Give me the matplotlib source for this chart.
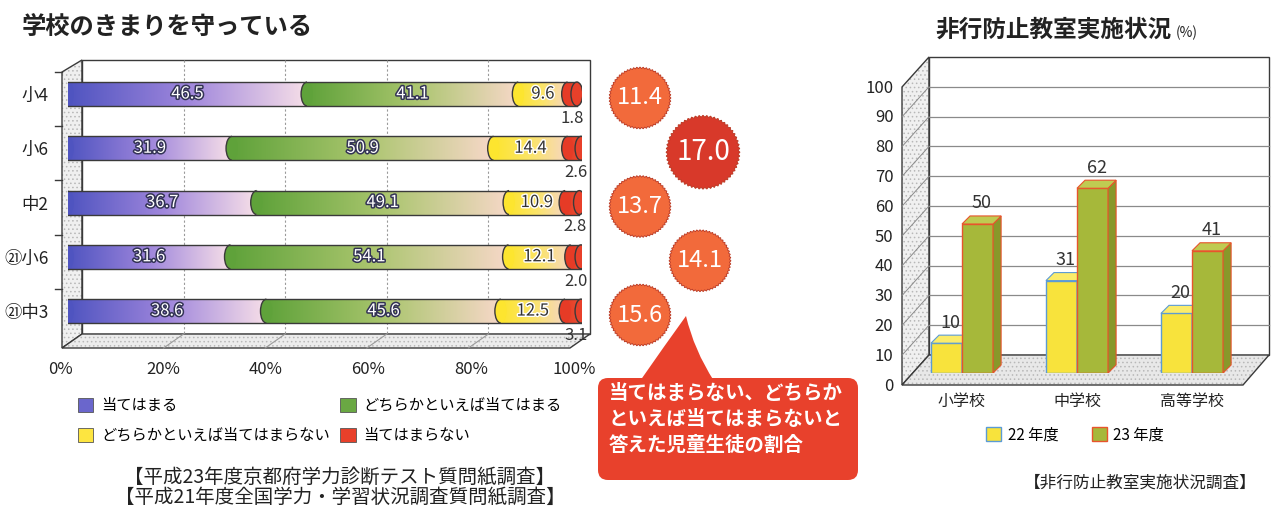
import numpy as np
import matplotlib
matplotlib.use('Agg')
import matplotlib.pyplot as plt
from matplotlib.patches import Ellipse, Arc, Polygon, Rectangle, FancyBboxPatch, PathPatch, Patch
from matplotlib.colors import LinearSegmentedColormap
from matplotlib.path import Path
from matplotlib.transforms import ScaledTranslation
import matplotlib.patheffects as pe

plt.rcParams['font.family'] = ['Noto Sans CJK JP', 'DejaVu Sans']
plt.rcParams['hatch.linewidth'] = 0.6

# ---------------- data ----------------
grades = ['小4', '小6', '中2', '㉑小6', '㉑中3']
atehamaru = [46.5, 31.9, 36.7, 31.6, 38.6]
dochira_atehamaru = [41.1, 50.9, 49.1, 54.1, 45.6]
dochira_atehamaranai = [9.6, 14.4, 10.9, 12.1, 12.5]
atehamaranai = [1.8, 2.6, 2.8, 2.0, 3.1]
answer_labels = ['当てはまる', 'どちらかといえば当てはまる',
                 'どちらかといえば当てはまらない', '当てはまらない']
pct_ticks = [0, 20, 40, 60, 80, 100]
pct_labels = ['0%', '20%', '40%', '60%', '80%', '100%']

schools = ['小学校', '中学校', '高等学校']
fy22 = [10, 31, 20]
fy23 = [50, 62, 41]
year_labels = ['22 年度', '23 年度']
count_ticks = list(range(0, 101, 10))

W, H = 1288, 511
fig = plt.figure(figsize=(W / 100, H / 100), dpi=100)


def px_axes(x0, y0, x1, y1):
    return fig.add_axes([x0 / W, 1 - y1 / H, (x1 - x0) / W, (y1 - y0) / H])


canvas = fig.add_axes([0, 0, 1, 1])
canvas.set_xlim(0, W)
canvas.set_ylim(H, 0)
canvas.axis('off')

EDGE = '#3a3a3a'


def dotted_poly(pts, face):
    canvas.add_patch(Polygon(pts, closed=True, facecolor=face, edgecolor='#b8b8b8',
                             lw=0, hatch='....'))
    canvas.add_patch(Polygon(pts, closed=True, facecolor='none', edgecolor=EDGE, lw=1.0))


# ---------------- left chart frame (pseudo 3D) ----------------
dotted_poly([(62, 348), (62, 72), (82, 60), (82, 334)], '#f0f0f0')
canvas.add_patch(Polygon([(82, 60), (590, 60), (590, 334), (82, 334)], closed=True,
                         facecolor='white', edgecolor=EDGE, lw=1.0))
dotted_poly([(62, 348), (82, 334), (590, 334), (570, 348)], '#ececec')
for v in pct_ticks[1:-1]:
    xb = 82 + 5.08 * v
    xf = 62 + 5.08 * v
    canvas.plot([xb, xb], [60, 334], color='#9a9a9a', lw=0.8, ls=(0, (2, 2)))
    canvas.plot([xf, xb], [348, 334], color='#9a9a9a', lw=0.8)
for r in range(len(grades)):
    yt = 94 + 54.25 * r - 22
    canvas.plot([55, 62], [yt, yt], color=EDGE, lw=1.0)

# ---------------- left chart bars ----------------
ax1 = px_axes(68, 60, 582, 348)
ax1.set_facecolor('none')
ax1.set_xlim(0, 100)
ax1.set_ylim(4.68, -0.627)
for s in ax1.spines.values():
    s.set_visible(False)

seg_cmaps = [
    LinearSegmentedColormap.from_list('a', ['#4f54c0', '#9f86dc', '#f7dfe8']),
    LinearSegmentedColormap.from_list('b', ['#5fa23a', '#a9c56d', '#f7d8c8']),
    LinearSegmentedColormap.from_list('c', ['#fde52f', '#fbe46a', '#f6d6c4']),
    LinearSegmentedColormap.from_list('d', ['#e63b26', '#e8452c', '#ea4f34']),
]
legend_colors = ['#6a66cc', '#6aa843', '#fde540', '#e8402a']
series = [atehamaru, dochira_atehamaru, dochira_atehamaranai, atehamaranai]
grad = np.linspace(0, 1, 256).reshape(1, -1)
bh = 0.44
cap_w = 2.3

for r in range(len(grades)):
    left = 0.0
    for k, vals in enumerate(series):
        v = vals[r]
        right = left + v
        ax1.imshow(grad, extent=(left, right, r + bh / 2, r - bh / 2), aspect='auto',
                   cmap=seg_cmaps[k], interpolation='bilinear', zorder=2)
        ax1.add_patch(Ellipse((left, r), cap_w, bh, facecolor=seg_cmaps[k](0.0),
                              edgecolor='none', zorder=3))
        ax1.add_patch(Arc((left, r), cap_w, bh, theta1=90, theta2=270,
                          color=EDGE, lw=1.0, zorder=4))
        if k < 2:
            ax1.text((left + right) / 2, r, f'{v:.1f}', ha='center', va='center',
                     fontsize=12, color='white', zorder=6,
                     path_effects=[pe.withStroke(linewidth=2.2, foreground='#333355')])
        elif k == 2:
            ax1.text((left + right) / 2, r, f'{v:.1f}', ha='center', va='center',
                     fontsize=12, color='#333333', zorder=6,
                     path_effects=[pe.withStroke(linewidth=2.0, foreground='white')])
        else:
            ax1.text(right + 1.3, r + 0.45, f'{v:.1f}', ha='right', va='center',
                     fontsize=12, color='#333333', zorder=6)
        left = right
    ax1.add_patch(Ellipse((left, r), cap_w, bh, facecolor='#e8402a',
                          edgecolor=EDGE, lw=1.0, zorder=5))
    ax1.plot([0, left], [r - bh / 2, r - bh / 2], color=EDGE, lw=1.0, zorder=4)
    ax1.plot([0, left], [r + bh / 2, r + bh / 2], color=EDGE, lw=1.0, zorder=4)

ax1.set_yticks(range(len(grades)))
ax1.set_yticklabels(grades, fontsize=12.5, color='#222222')
ax1.tick_params(axis='y', length=0, pad=14)
ax1.set_xticks(pct_ticks)
ax1.set_xticklabels(pct_labels, fontsize=12, color='#222222')
ax1.tick_params(axis='x', length=0, pad=9)
for lab in ax1.get_xticklabels():
    lab.set_transform(lab.get_transform() + ScaledTranslation(-0.08, 0, fig.dpi_scale_trans))

leg_handles = [Patch(facecolor=legend_colors[i], edgecolor='#555555', lw=0.6) for i in range(4)]
order = [0, 2, 1, 3]
ax1.legend([leg_handles[i] for i in order], [answer_labels[i] for i in order],
           ncol=2, loc='upper left', bbox_to_anchor=(78 / W, 1 - 397 / H),
           bbox_transform=fig.transFigure, frameon=False, fontsize=11,
           handlelength=1.0, handleheight=1.0, handletextpad=0.5,
           labelspacing=0.85, columnspacing=0.7, borderaxespad=0, borderpad=0)

fig.text(22 / W, 1 - 28 / H, '学校のきまりを守っている', fontsize=17.5, fontweight='bold',
         ha='left', va='center', color='#222222')
fig.text(340 / W, 1 - 477 / H, '【平成23年度京都府学力診断テスト質問紙調査】', fontsize=14,
         ha='center', va='center', color='#222222')
fig.text(340 / W, 1 - 497 / H, '【平成21年度全国学力・学習状況調査質問紙調査】', fontsize=14,
         ha='center', va='center', color='#222222')

# ---------------- circles with combined negative share ----------------
neg_share = [round(a + b, 1) for a, b in zip(dochira_atehamaranai, atehamaranai)]
circle_x = [640, 703, 640, 700, 640]
vmax = max(neg_share)
for r, val in enumerate(neg_share):
    cy = 94 + 54.25 * r + 4
    cx = circle_x[r]
    big = val == vmax
    rad = 37 if big else 31
    n = 120
    ang = np.linspace(0, 2 * np.pi, n, endpoint=False)
    rr = np.where(np.arange(n) % 2 == 0, rad, rad * 0.95)
    pts = np.column_stack([cx + rr * np.cos(ang), cy + rr * np.sin(ang)])
    canvas.add_patch(Polygon(pts, closed=True, facecolor='#d8392a' if big else '#f26a3b',
                             edgecolor='#b8351f', lw=0.6))
    canvas.text(cx, cy, f'{val:.1f}', ha='center', va='center',
                fontsize=20 if big else 17, color='white')

# callout
canvas.add_patch(FancyBboxPatch((598, 378), 260, 102,
                                boxstyle='round,pad=0,rounding_size=10',
                                facecolor='#e8412c', edgecolor='none'))
verts = [(640, 381), (665, 345), (686, 316), (694, 350), (714, 381), (640, 381)]
codes = [Path.MOVETO, Path.CURVE3, Path.CURVE3, Path.CURVE3, Path.CURVE3, Path.CLOSEPOLY]
canvas.add_patch(PathPatch(Path(verts, codes), facecolor='#e8412c', edgecolor='none'))
canvas.text(609, 384, '当てはまらない、どちらか\nといえば当てはまらないと\n答えた児童生徒の割合',
            ha='left', va='top', fontsize=14, color='white', fontweight='bold',
            linespacing=1.45)

# ---------------- right chart frame ----------------
dotted_poly([(902, 385), (902, 87), (929, 57), (929, 355)], '#f0f0f0')
canvas.add_patch(Polygon([(929, 57), (1269, 57), (1269, 355), (929, 355)], closed=True,
                         facecolor='white', edgecolor=EDGE, lw=1.0))
dotted_poly([(902, 385), (929, 355), (1269, 355), (1243, 385)], '#e8e8e8')
for v in count_ticks[1:-1]:
    yb = 355 - 2.98 * v
    canvas.plot([929, 1269], [yb, yb], color='#8a8a8a', lw=0.9)
for v in count_ticks[1:-1]:
    canvas.plot([902, 929], [385 - 2.98 * v, 355 - 2.98 * v], color='#8a8a8a', lw=0.7)

# ---------------- right chart bars ----------------
ax2 = px_axes(904.5, 75, 1249.5, 373)
ax2.set_facecolor('none')
ax2.set_xlim(-0.5, 2.5)
ax2.set_ylim(0, 100)
for s in ax2.spines.values():
    s.set_visible(False)

x = np.arange(len(schools))
bw = 0.27
dx, dy = 0.07, 2.7
styles = [
    dict(face='#f8e33c', top='#fbec6a', side='#d8c52c', edge='#5b9bd5'),
    dict(face='#a6b83a', top='#bfcb52', side='#88982a', edge='#e8542c'),
]
for j, (vals, st) in enumerate(zip([fy22, fy23], styles)):
    centers = x + (j - 0.5) * bw
    ax2.bar(centers, vals, width=bw, color=st['face'], edgecolor=st['edge'],
            lw=1.0, zorder=2 + 3 * j)
    for c, v in zip(centers, vals):
        l, rgt = c - bw / 2, c + bw / 2
        ax2.add_patch(Polygon([(rgt, 0), (rgt, v), (rgt + dx, v + dy), (rgt + dx, dy)],
                              closed=True, facecolor=st['side'], edgecolor=st['edge'],
                              lw=0.8, zorder=2 + 3 * j))
        ax2.add_patch(Polygon([(l, v), (rgt, v), (rgt + dx, v + dy), (l + dx, v + dy)],
                              closed=True, facecolor=st['top'], edgecolor=st['edge'],
                              lw=0.8, zorder=3 + 3 * j))
        ax2.text(c + dx / 2, v + dy + 1.2, f'{v}', ha='center', va='bottom',
                 fontsize=13, color='#333333', zorder=10)

ax2.set_yticks(count_ticks)
ax2.set_yticklabels([str(t) for t in count_ticks], fontsize=12, color='#222222')
ax2.tick_params(axis='y', length=0, pad=8)
for lab in ax2.get_yticklabels():
    lab.set_transform(lab.get_transform() + ScaledTranslation(0, -0.11, fig.dpi_scale_trans))
ax2.set_xticks(x)
ax2.set_xticklabels(schools, fontsize=11.5, color='#222222')
ax2.tick_params(axis='x', length=0, pad=14)

ax2.legend([Patch(facecolor=styles[0]['face'], edgecolor=styles[0]['edge']),
            Patch(facecolor=styles[1]['face'], edgecolor=styles[1]['edge'])],
           year_labels, ncol=2, loc='center', bbox_to_anchor=(1075 / W, 1 - 435 / H),
           bbox_transform=fig.transFigure, frameon=False, fontsize=11,
           handlelength=1.0, handleheight=1.0, handletextpad=0.4, columnspacing=2.2)

fig.text(935 / W, 1 - 30 / H, '非行防止教室実施状況', fontsize=17, fontweight='bold',
         ha='left', va='center', color='#222222')
fig.text(1176 / W, 1 - 33 / H, '(%)', fontsize=10, ha='left', va='center', color='#222222')
fig.text(1140 / W, 1 - 483 / H, '【非行防止教室実施状況調査】', fontsize=12,
         ha='center', va='center', color='#222222')

fig.savefig('out.png', dpi=100)
